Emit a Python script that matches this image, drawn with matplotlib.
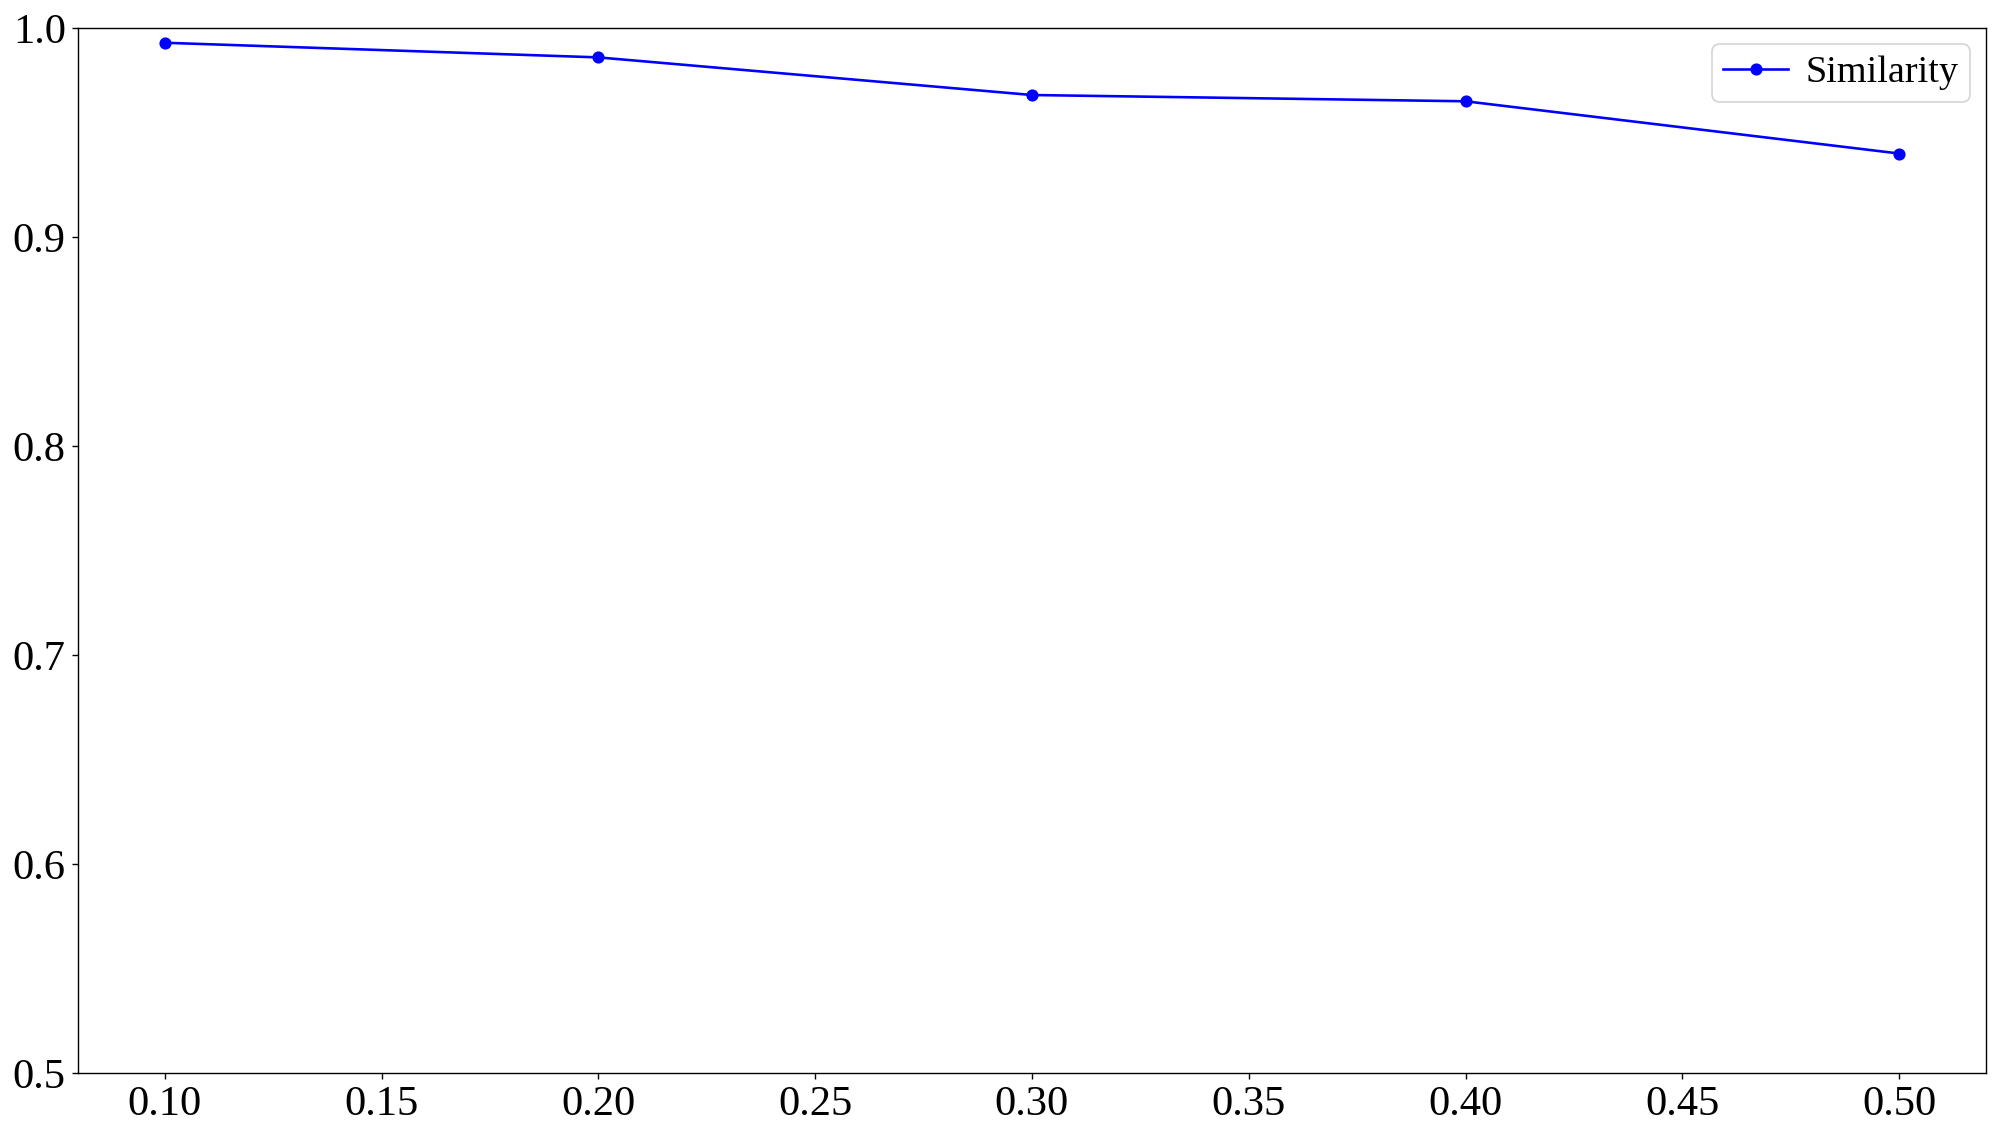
import matplotlib
matplotlib.use("Agg")
import matplotlib.pyplot as plt

ratios = [0.1, 0.2, 0.3, 0.4, 0.5]
similarity = [0.993, 0.986, 0.968, 0.965, 0.940]
xtick_labels = ["0.10", "0.15", "0.20", "0.25", "0.30", "0.35", "0.40", "0.45", "0.50"]
xtick_vals = [0.10, 0.15, 0.20, 0.25, 0.30, 0.35, 0.40, 0.45, 0.50]
ytick_vals = [0.5, 0.6, 0.7, 0.8, 0.9, 1.0]

plt.rcParams['font.family'] = ['Liberation Serif', 'DejaVu Serif']

fig = plt.figure(figsize=(16, 9), dpi=125)
ax = fig.add_axes([0.039, 0.046, 0.954, 0.929])
ax.plot(ratios, similarity, color='blue', marker='o', linewidth=1.5, markersize=6, label='Similarity')
ax.set_ylim(0.5, 1.0)
ax.set_xlim(0.08, 0.52)
ax.set_xticks(xtick_vals)
ax.set_xticklabels(xtick_labels)
ax.set_yticks(ytick_vals)
ax.tick_params(labelsize=24.5)
ax.legend(loc='upper right', fontsize=22, borderpad=0.3, borderaxespad=0.42,
          handlelength=1.7, handletextpad=0.45)
fig.savefig("out.png", dpi=125)
